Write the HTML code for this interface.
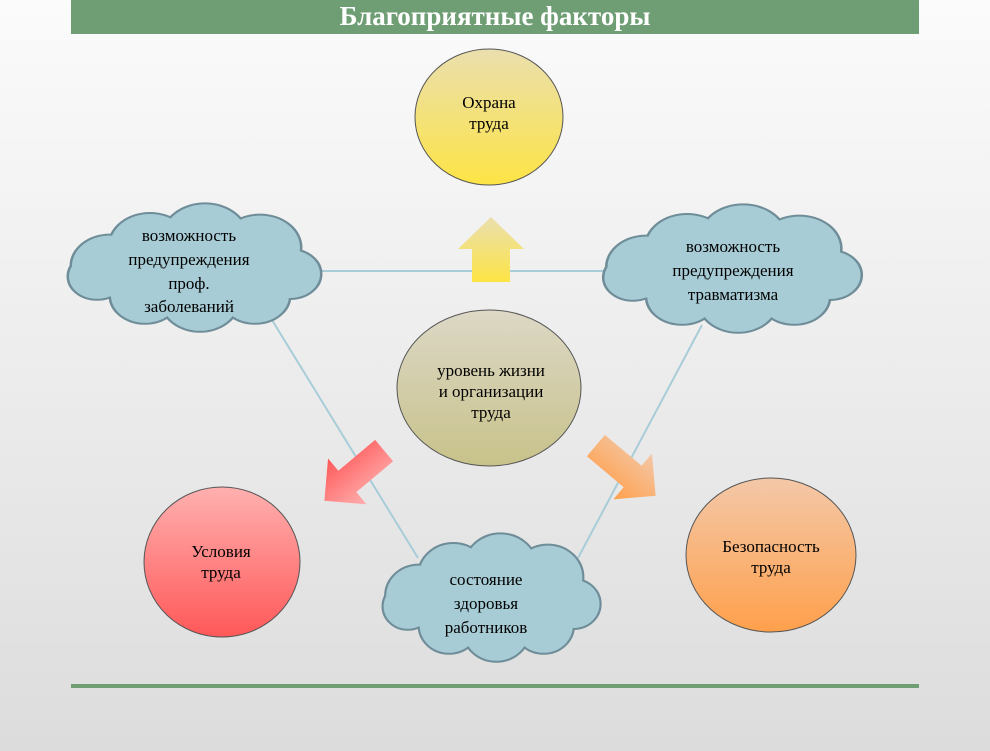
<!DOCTYPE html>
<html><head><meta charset="utf-8"><style>
html,body{margin:0;padding:0;}
body{width:990px;height:751px;background:linear-gradient(#fbfbfb,#e9e9e9 60%,#dcdcdc);font-family:"Liberation Serif",serif;overflow:hidden}
</style></head><body>
<svg width="990" height="751" xmlns="http://www.w3.org/2000/svg" style="position:absolute;left:0;top:0">
<defs>
<linearGradient id="gy" x1="0" y1="0" x2="0" y2="1"><stop offset="0" stop-color="#eadfae"/><stop offset="1" stop-color="#fde445"/></linearGradient>
<linearGradient id="gc" x1="0" y1="0" x2="0" y2="1"><stop offset="0" stop-color="#dcd8c6"/><stop offset="1" stop-color="#c8c28a"/></linearGradient>
<linearGradient id="gr" x1="0" y1="0" x2="0" y2="1"><stop offset="0" stop-color="#ffb0b0"/><stop offset="1" stop-color="#ff5858"/></linearGradient>
<linearGradient id="go" x1="0" y1="0" x2="0" y2="1"><stop offset="0" stop-color="#f3c8a8"/><stop offset="1" stop-color="#ffa04c"/></linearGradient>
<g id="cl">
<circle cx="-85" cy="-5" r="38"/><circle cx="-45" cy="-30" r="40"/><circle cx="10" cy="-40" r="42"/><circle cx="65" cy="-28" r="40"/><circle cx="95" cy="5" r="30"/><circle cx="60" cy="32" r="34"/><circle cx="5" cy="38" r="38"/><circle cx="-50" cy="32" r="34"/><circle cx="-98" cy="8" r="28"/><ellipse cx="0" cy="0" rx="90" ry="40"/>
</g>
</defs>
<rect x="71" y="0" width="848" height="34" fill="#6f9e74"/>
<text x="495" y="25" text-anchor="middle" fill="#fff" font-size="27" font-weight="bold">Благоприятные факторы</text>
<rect x="71" y="684" width="848" height="4" fill="#6f9e74"/>
<g stroke="#a8cdd9" stroke-width="2">
<line x1="320" y1="271" x2="610" y2="271"/><line x1="272" y1="320" x2="418" y2="558"/><line x1="702" y1="325" x2="578" y2="558"/>
</g>
<ellipse cx="489" cy="117" rx="74" ry="68" fill="url(#gy)" stroke="#555" stroke-width="1"/>
<text text-anchor="middle" font-size="17"><tspan x="489" y="108">Охрана</tspan><tspan x="489" y="129">труда</tspan></text>
<polygon points="491,217 524,249 510,249 510,282 472,282 472,249 458,249" fill="url(#gy)"/>
<ellipse cx="489" cy="388" rx="92" ry="78" fill="url(#gc)" stroke="#555" stroke-width="1"/>
<text text-anchor="middle" font-size="17"><tspan x="491" y="376">уровень жизни</tspan><tspan x="491" y="397">и организации</tspan><tspan x="491" y="418">труда</tspan></text>
<g transform="translate(355,475) rotate(-40)"><polygon points="-38,-14 10,-14 10,-30 40,0 10,30 10,14 -38,14" transform="rotate(180)" fill="url(#gr)"/></g>
<g transform="translate(625,470) rotate(40)"><polygon points="-38,-14 10,-14 10,-30 40,0 10,30 10,14 -38,14" fill="url(#go)"/></g>
<ellipse cx="222" cy="562" rx="78" ry="75" fill="url(#gr)" stroke="#555" stroke-width="1"/>
<text text-anchor="middle" font-size="17"><tspan x="221" y="557">Условия</tspan><tspan x="221" y="578">труда</tspan></text>
<ellipse cx="771" cy="555" rx="85" ry="77" fill="url(#go)" stroke="#555" stroke-width="1"/>
<text text-anchor="middle" font-size="17"><tspan x="771" y="552">Безопасность</tspan><tspan x="771" y="573">труда</tspan></text>
<g transform="translate(195,270) scale(1.0,0.8)"><use href="#cl" fill="#6f8d98" stroke="#6f8d98" stroke-width="5"/><use href="#cl" fill="#a7ccd6"/></g>
<g transform="translate(733,271) scale(1.02,0.8)"><use href="#cl" fill="#6f8d98" stroke="#6f8d98" stroke-width="5"/><use href="#cl" fill="#a7ccd6"/></g>
<g transform="translate(492,600) scale(0.86,0.8)"><use href="#cl" fill="#6f8d98" stroke="#6f8d98" stroke-width="5"/><use href="#cl" fill="#a7ccd6"/></g>
<text text-anchor="middle" font-size="17"><tspan x="189" y="241">возможность</tspan><tspan x="189" y="265">предупреждения</tspan><tspan x="189" y="289">проф.</tspan><tspan x="189" y="312">заболеваний</tspan></text>
<text text-anchor="middle" font-size="17"><tspan x="733" y="252">возможность</tspan><tspan x="733" y="276">предупреждения</tspan><tspan x="733" y="300">травматизма</tspan></text>
<text text-anchor="middle" font-size="17"><tspan x="486" y="585">состояние</tspan><tspan x="486" y="609">здоровья</tspan><tspan x="486" y="633">работников</tspan></text>
</svg>
</body></html>
